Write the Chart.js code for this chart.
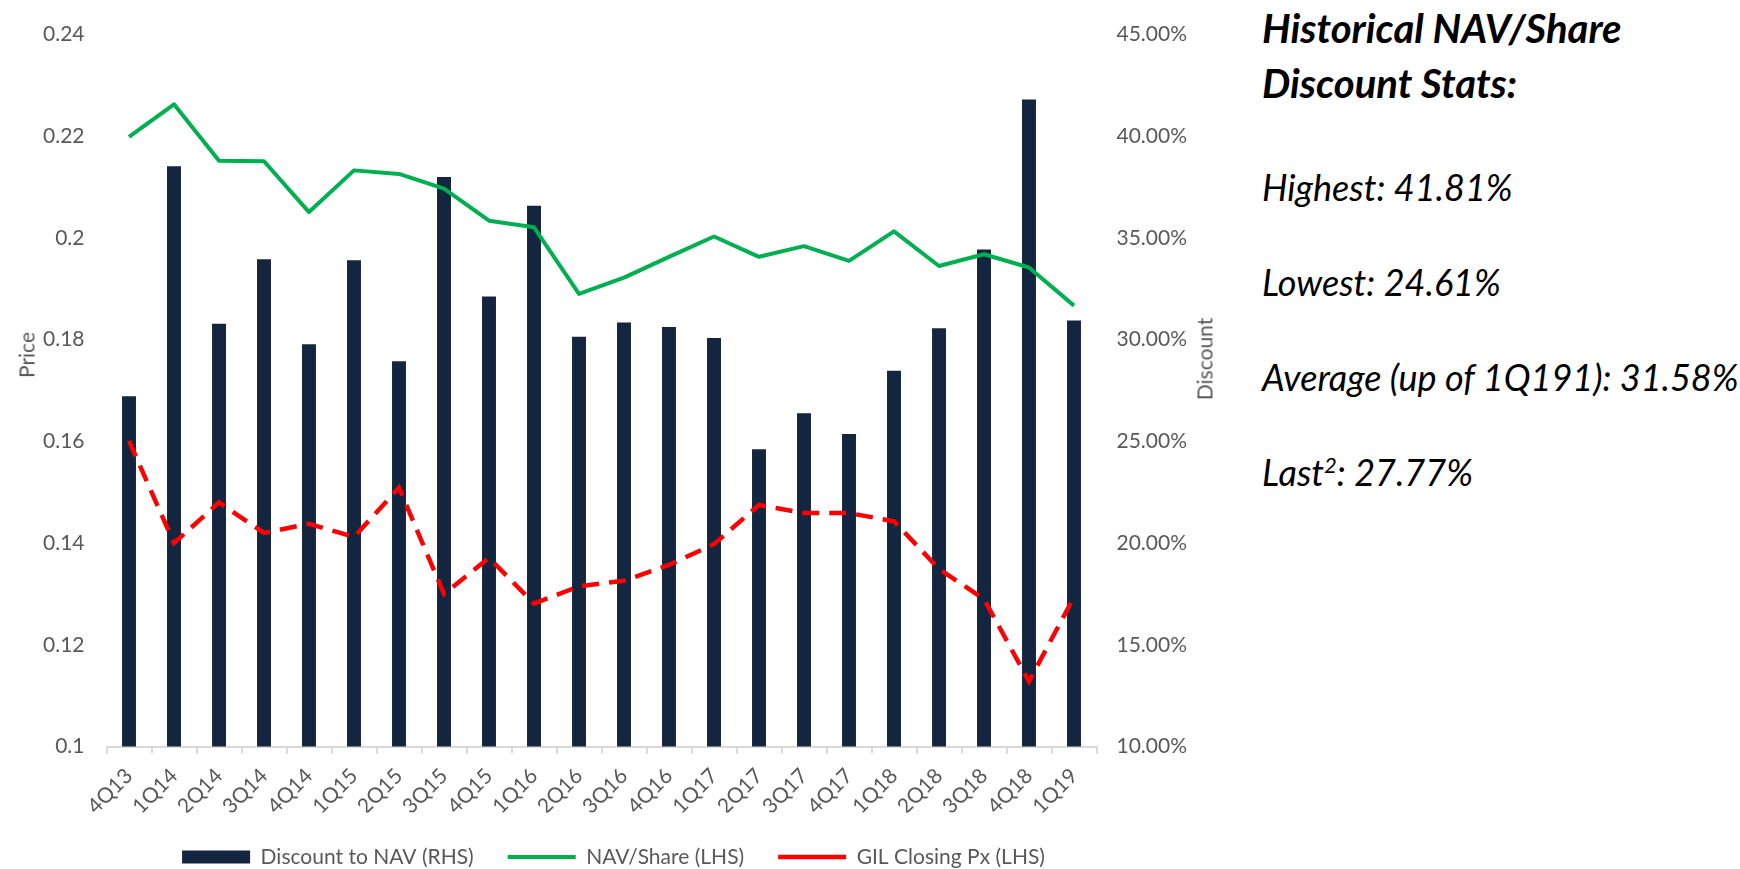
<!DOCTYPE html>
<html>
<head>
<meta charset="utf-8">
<script src="https://cdn.jsdelivr.net/npm/chart.js@4/dist/chart.umd.min.js"></script>
<style>
  body { margin: 0; background: #fff; width: 1740px; height: 869px; overflow: hidden; position: relative; font-family: Lato, "Open Sans", sans-serif; }
  #wrap { position: absolute; left: 0; top: 0; width: 1240px; height: 869px; }
  .axis-title { position: absolute; font-size: 21px; color: #595959; white-space: nowrap; transform: translate(-50%, -50%) rotate(-90deg); }
  .stats { position: absolute; left: 1262px; color: #000; white-space: nowrap; font-style: italic; }
  .stats h1 { margin: 0; font-size: 40px; font-weight: bold; line-height: 55px; }
  .stats p { position: absolute; left: 0; margin: 0; font-size: 36px; line-height: 43px; }
  .stats sup { font-size: 22px; line-height: 0; }
</style>
</head>
<body>
<div id="wrap"><canvas id="chartNav" width="1240" height="869"></canvas></div>
<div class="axis-title" style="left:26px; top:355px;">Price</div>
<div class="axis-title" style="left:1204px; top:359px;">Discount</div>
<div class="stats" style="top:1px;">
  <h1>Historical NAV/Share<br>Discount Stats:</h1>
  <p style="top:165px;">Highest: 41.81%</p>
  <p style="top:260px;">Lowest: 24.61%</p>
  <p style="top:355px;">Average (up of 1Q191): 31.58%</p>
  <p style="top:450px;">Last<sup>2</sup>: 27.77%</p>
</div>
<script>
// trimestres
const categorias = ['4Q13', '1Q14', '2Q14', '3Q14', '4Q14', '1Q15', '2Q15', '3Q15', '4Q15', '1Q16', '2Q16',
    '3Q16', '4Q16', '1Q17', '2Q17', '3Q17', '4Q17', '1Q18', '2Q18', '3Q18', '4Q18', '1Q19'];

// desconto sobre o NAV, em % (eixo direito)
const descontoNav = [27.22, 38.53, 30.79, 33.95, 29.78, 33.90, 28.94, 38.00, 32.12, 36.59, 30.15,
    30.84, 30.63, 30.08, 24.61, 26.38, 25.36, 28.47, 30.56, 34.43, 41.81, 30.95];

// NAV por acao (eixo esquerdo)
const navPorAcao = [0.2199, 0.2263, 0.2152, 0.2151, 0.2051, 0.2133, 0.2126, 0.2097, 0.2034, 0.2021, 0.1890,
    0.1922, 0.1963, 0.2003, 0.1963, 0.1984, 0.1955, 0.2013, 0.1945, 0.1968, 0.1942, 0.1867];

// preco de fechamento GIL (eixo esquerdo)
const precoGil = [0.1601, 0.1400, 0.1480, 0.1420, 0.1438, 0.1412, 0.1509, 0.1300, 0.1371, 0.1281, 0.1315,
    0.1326, 0.1357, 0.1398, 0.1475, 0.1459, 0.1459, 0.1443, 0.1349, 0.1290, 0.1128, 0.1294];

// limites dos eixos
const eixoPreco = { min: 0.1, max: 0.24, passo: 0.02 };
const eixoDesconto = { min: 10, max: 45, passo: 5 };

const corTexto = '#595959';
const fonte = { family: 'Lato', size: 21 };

new Chart(document.getElementById('chartNav'), {
    type: 'bar',
    data: {
        labels: categorias,
        datasets: [{
            label: 'Discount to NAV (RHS)',
            data: descontoNav,
            yAxisID: 'yDesconto',
            backgroundColor: '#14253f',
            borderWidth: 0,
            barPercentage: 0.31,
            categoryPercentage: 1,
            pointStyle: 'rect',
            order: 3
        }, {
            type: 'line',
            label: 'NAV/Share (LHS)',
            data: navPorAcao,
            yAxisID: 'yPreco',
            borderColor: '#00b050',
            backgroundColor: '#00b050',
            borderWidth: 4,
            borderJoinStyle: 'round',
            pointRadius: 0,
            pointStyle: 'line',
            fill: false,
            order: 1
        }, {
            type: 'line',
            label: 'GIL Closing Px (LHS)',
            data: precoGil,
            yAxisID: 'yPreco',
            borderColor: '#ff0000',
            backgroundColor: '#ff0000',
            borderWidth: 4.5,
            borderDash: [17, 10],
            pointRadius: 0,
            pointStyle: 'line',
            fill: false,
            order: 2
        }]
    },
    options: {
        responsive: false,
        animation: false,
        events: [],
        // fundo negativo: a legenda fica colada na borda de baixo
        layout: { padding: { top: 26, bottom: -8.5, left: 0, right: 13 } },
        plugins: {
            tooltip: { enabled: false },
            legend: {
                position: 'bottom',
                labels: {
                    usePointStyle: true,
                    pointStyleWidth: 68,
                    boxHeight: 13,
                    padding: 34,
                    color: corTexto,
                    font: fonte,
                    sort: (a, b) => a.datasetIndex - b.datasetIndex
                }
            }
        },
        scales: {
            x: {
                offset: true,
                grid: { display: true, drawOnChartArea: false, drawTicks: true, tickLength: 7, color: '#d9d9d9', lineWidth: 2, offset: true },
                border: { display: true, color: '#d9d9d9', width: 2 },
                ticks: { autoSkip: false, minRotation: 45, maxRotation: 45, padding: 10, color: corTexto, font: fonte },
                afterFit: (s) => { s.height = 66; }
            },
            yPreco: {
                position: 'left',
                min: eixoPreco.min,
                max: eixoPreco.max,
                grid: { display: false, drawTicks: false },
                border: { display: false },
                ticks: {
                    stepSize: eixoPreco.passo,
                    padding: 22,
                    color: corTexto,
                    font: fonte,
                    callback: (v) => String(Number(v.toFixed(2)))
                },
                afterFit: (s) => { s.width = 106.5; }
            },
            yDesconto: {
                position: 'right',
                min: eixoDesconto.min,
                max: eixoDesconto.max,
                grid: { display: false, drawTicks: false },
                border: { display: false },
                ticks: {
                    stepSize: eixoDesconto.passo,
                    padding: 20,
                    color: corTexto,
                    font: fonte,
                    callback: (v) => v.toFixed(2) + '%'
                },
                afterFit: (s) => { s.width = 130.5; }
            }
        }
    }
});
</script>
</body>
</html>
